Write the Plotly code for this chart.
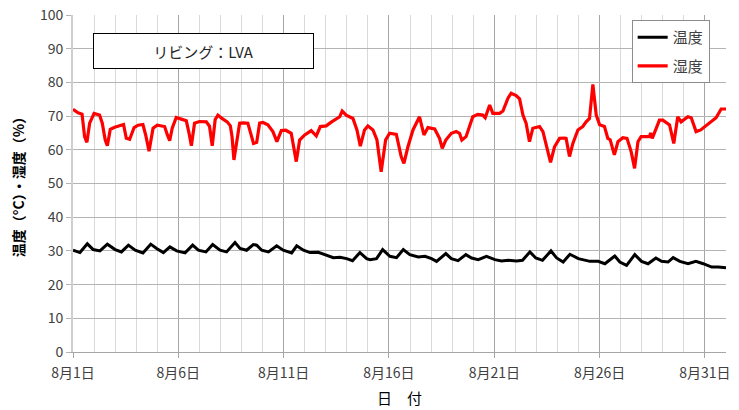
import pandas as pd
import plotly.graph_objects as go

# ---- data (day offsets from 8/1 00:00) ----
START = "2013-08-01"

temp_days = [0.00, 0.33, 0.68, 0.96, 1.28, 1.63, 2.00, 2.30, 2.63, 2.95, 3.32, 3.69, 3.97, 4.29, 4.60,
             4.92, 5.32, 5.68, 5.95, 6.31, 6.63, 6.98, 7.29, 7.69, 7.93, 8.24, 8.56, 8.72, 8.96, 9.28,
             9.67, 9.98, 10.38, 10.62, 10.94, 11.25, 11.64, 11.96, 12.36, 12.67, 12.99, 13.27, 13.62,
             13.94, 14.10, 14.41, 14.70, 15.04, 15.36, 15.68, 15.99, 16.39, 16.71, 17.02, 17.26, 17.70,
             17.96, 18.28, 18.65, 18.92, 19.24, 19.63, 20.03, 20.34, 20.66, 21.06, 21.34, 21.69, 21.97,
             22.29, 22.69, 22.96, 23.27, 23.59, 23.99, 24.54, 24.93, 25.25, 25.72, 25.96, 26.28, 26.67,
             26.99, 27.30, 27.67, 27.94, 28.25, 28.49, 28.81, 29.20, 29.57, 29.92, 30.32, 30.63, 31.00]
temp_vals = [30.2, 29.5, 32.1, 30.4, 30.0, 32.0, 30.4, 29.7, 31.7, 30.2, 29.4, 32.0, 30.7, 29.5, 31.2,
             30.0, 29.4, 31.7, 30.2, 29.7, 31.9, 30.2, 29.7, 32.5, 30.7, 30.2, 31.9, 31.7, 30.2, 29.7,
             31.5, 30.2, 29.4, 31.5, 30.2, 29.5, 29.6, 28.9, 28.0, 28.1, 27.7, 27.1, 29.5,
             27.7, 27.4, 27.7, 30.4, 28.4, 28.0, 30.4, 28.9, 28.2, 28.4, 27.7, 26.9, 29.2,
             27.7, 27.1, 28.9, 27.9, 27.4, 28.4, 27.4, 27.0, 27.2, 27.0, 27.2, 29.7, 27.9,
             27.2, 30.0, 27.9, 26.7, 29.0, 27.7, 26.9, 26.9, 26.2, 28.5, 26.7, 25.7, 28.9,
             26.9, 26.2, 27.9, 26.9, 26.7, 28.0, 26.9, 26.2, 26.9, 26.2, 25.2, 25.2, 25.0]

hum_days = [0.00, 0.24, 0.43, 0.55, 0.66, 0.79, 1.00, 1.26, 1.39, 1.53, 1.63, 1.77, 1.98, 2.29, 2.40,
            2.53, 2.69, 2.90, 3.09, 3.32, 3.45, 3.61, 3.80, 4.00, 4.35, 4.48, 4.59, 4.71, 4.90, 5.14,
            5.38, 5.51, 5.62, 5.77, 6.00, 6.33, 6.48, 6.61, 6.75, 6.88, 7.07, 7.32, 7.47, 7.55, 7.64,
            7.91, 8.07, 8.30, 8.46, 8.57, 8.72, 8.86, 9.02, 9.25, 9.49, 9.68, 9.89, 10.10, 10.36, 10.48,
            10.60, 10.76, 11.00, 11.31, 11.55, 11.74, 12.02, 12.26, 12.50, 12.66, 12.78, 12.97, 13.29,
            13.48, 13.64, 13.84, 14.00, 14.24, 14.43, 14.63, 14.84, 15.03, 15.35, 15.58, 15.71, 15.90,
            16.14, 16.45, 16.66, 16.85, 17.17, 17.40, 17.53, 17.70, 17.96, 18.19, 18.35, 18.46, 18.66,
            18.98, 19.22, 19.45, 19.57, 19.78, 19.93, 20.25, 20.41, 20.65, 20.80, 21.04, 21.20, 21.36,
            21.51, 21.67, 21.83, 22.15, 22.31, 22.46, 22.67, 22.86, 23.10, 23.33, 23.41, 23.57, 23.73,
            23.97, 24.20, 24.36, 24.52, 24.68, 24.84, 25.00, 25.23, 25.39, 25.50, 25.70, 25.87, 26.10,
            26.30, 26.50, 26.66, 26.82, 26.97, 27.37, 27.42, 27.50, 27.84, 28.00, 28.32, 28.52, 28.71,
            28.87, 29.19, 29.35, 29.58, 29.80, 30.29, 30.53, 30.77, 31.00]
hum_vals = [72.0, 71.0, 70.6, 63.9, 62.2, 67.9, 70.8, 70.3, 67.9, 62.9, 61.2, 66.1, 66.7, 67.2, 67.5,
            63.4, 63.1, 66.6, 67.3, 67.5, 64.4, 59.6, 66.4, 67.3, 66.9, 64.4, 62.7, 66.4, 69.6, 69.1,
            68.6, 64.9, 61.2, 67.9, 68.4, 68.3, 67.0, 61.2, 69.0, 70.3, 69.3, 68.3, 67.1, 63.9, 57.0,
            67.9, 68.0, 67.9, 64.4, 61.9, 62.2, 67.9, 68.1, 67.4, 65.4, 62.4, 65.7, 65.8, 64.9, 60.9,
            56.5, 62.9, 64.4, 65.7, 64.1, 66.9, 67.1, 68.2, 69.3, 69.8, 71.5, 70.3, 69.3,
            65.9, 61.1, 65.9, 67.1, 65.9, 62.9, 53.5, 62.9, 64.9, 64.6, 58.0, 56.0, 60.9,
            65.9, 69.8, 64.4, 66.6, 66.2, 63.4, 60.4, 62.9, 64.9, 65.4, 64.9, 62.9, 63.9,
            69.8, 70.5, 70.3, 69.5, 73.3, 70.8, 70.8, 71.5, 75.3, 76.8, 76.1, 75.1, 70.3,
            67.9, 62.4, 66.4, 66.9, 65.4, 61.4, 56.3, 60.9, 63.4, 63.5, 63.4, 58.0, 61.9,
            65.9, 66.9, 68.3, 69.3, 79.4, 70.3, 67.4, 66.9, 63.4, 63.0, 58.5, 62.4, 63.6,
            63.4, 59.4, 54.5, 62.4, 63.9, 63.9, 65.0, 63.4, 68.8, 68.8, 67.4, 61.9, 69.8,
            68.3, 69.8, 69.5, 65.4, 65.9, 68.3, 69.5, 72.1, 72.1]

tick_days = [0, 5, 10, 15, 20, 25, 30]
tick_text = ["8月1日", "8月6日", "8月11日", "8月16日", "8月21日", "8月26日", "8月31日"]

series_names = ["温度", "湿度"]
title_text = "リビング：LVA"
y_title = "温度（°C）・湿度（%）"
x_title = "日　付"

# ---- build ----
t0 = pd.Timestamp(START)
def to_dt(days):
    return [t0 + pd.Timedelta(days=d) for d in days]

FONT = "Noto Sans CJK JP"
fig = go.Figure()
fig.add_trace(go.Scatter(x=to_dt(temp_days), y=temp_vals, mode="lines", name=series_names[0],
                         legendgroup="a", line=dict(color="#000000", width=3)))
fig.add_trace(go.Scatter(x=to_dt(hum_days), y=hum_vals, mode="lines", name=series_names[1],
                         legendgroup="b", line=dict(color="#ff0000", width=3.2)))

fig.update_layout(
    width=739, height=410,
    margin=dict(l=73, r=13, t=15, b=58),
    paper_bgcolor="white", plot_bgcolor="white",
    font=dict(family=FONT, color="#404040"),
    showlegend=True,
    legend=dict(x=0.975, y=0.985, xanchor="right", yanchor="top",
                bgcolor="white", bordercolor="#8c8c8c", borderwidth=1,
                font=dict(size=15, color="#404040", family=FONT),
                tracegroupgap=6, traceorder="grouped"),
    xaxis=dict(
        type="date",
        range=[t0, t0 + pd.Timedelta(days=31)],
        tickvals=to_dt(tick_days), ticktext=tick_text,
        showgrid=True, gridcolor="#a6a6a6", gridwidth=1,
        minor=dict(dtick=86400000, tick0=t0, showgrid=True, gridcolor="#d9d9d9", gridwidth=1),
        ticks="outside", ticklen=5, tickcolor="#a6a6a6",
        showline=True, linecolor="#a6a6a6", linewidth=1,
        tickfont=dict(size=14, color="#404040"), ticklabelstandoff=3,
        title=dict(text=x_title, font=dict(size=15, color="#000000"), standoff=12),
        zeroline=False, automargin=False,
    ),
    yaxis=dict(
        range=[0, 100], dtick=10, tick0=0,
        showgrid=True, gridcolor="#b4b4b4", gridwidth=1,
        ticks="outside", ticklen=5, tickcolor="#b4b4b4",
        showline=True, linecolor="#cfcfcf", linewidth=2,
        tickfont=dict(size=14, color="#404040"),
        title=dict(text=y_title, font=dict(size=14, color="#000000", weight="bold"), standoff=12),
        zeroline=False, automargin=False,
    ),
    annotations=[dict(
        text=title_text, xref="paper", yref="paper", x=0.1997, y=0.892,
        xanchor="center", yanchor="middle", showarrow=False,
        width=219, height=34, borderpad=0, bordercolor="#000000", borderwidth=1,
        bgcolor="white", font=dict(size=15, color="#262626", family=FONT),
    )],
)

# remove the browser's default 8px page margin so the figure fills the window exactly
fig.write_html("out.html", config={"displayModeBar": False},
               post_script="document.body.style.margin='0';")
